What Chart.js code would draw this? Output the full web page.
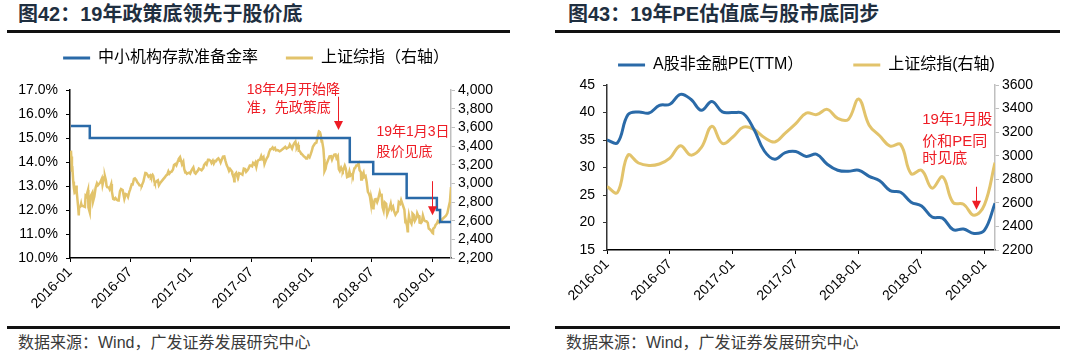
<!DOCTYPE html>
<html>
<head>
<meta charset="utf-8">
<script src="https://cdn.jsdelivr.net/npm/chart.js@4.4.0/dist/chart.umd.min.js"></script>
<style>
  body { margin: 0; background: #fff; width: 1080px; height: 362px; position: relative; overflow: hidden;
         font-family: "Liberation Sans", "Noto Sans CJK SC", sans-serif; }
  .title { position: absolute; top: 2px; font-size: 20px; font-weight: bold; color: #1f2f40; line-height: 24px; white-space: nowrap; }
  .rule { position: absolute; height: 3px; background: #111; }
  .src { position: absolute; top: 333px; font-size: 16px; color: #3a3a3a; line-height: 20px; white-space: nowrap; }
  .box { position: absolute; top: 40px; width: 540px; height: 280px; }
</style>
</head>
<body>
<div class="title" style="left:18px">图42：19年政策底领先于股价底</div>
<div class="rule" style="left:7px;width:503px;top:30px"></div>
<div class="box" style="left:0"><canvas id="left" width="540" height="280"></canvas></div>
<div class="rule" style="left:7px;width:503px;top:326px"></div>
<div class="src" style="left:18px">数据来源：Wind，广发证券发展研究中心</div>

<div class="title" style="left:568px">图43：19年PE估值底与股市底同步</div>
<div class="rule" style="left:555px;width:505px;top:30px"></div>
<div class="box" style="left:540px"><canvas id="right" width="540" height="280"></canvas></div>
<div class="rule" style="left:555px;width:505px;top:326px"></div>
<div class="src" style="left:566px">数据来源：Wind，广发证券发展研究中心</div>

<script>
// ---- data: chart 42 ----
const xTickLabels = ['2016-01', '2016-07', '2017-01', '2017-07', '2018-01', '2018-07', '2019-01'];

// small/medium bank RRR, % (date it took effect)
const rrrDates = ['2016-01-04', '2016-02-29', '2018-04-25', '2018-07-05', '2018-10-15', '2019-01-15', '2019-01-25', '2019-02-25'];
const rrrValues = [15.5, 15.0, 14.0, 13.5, 12.5, 12.0, 11.5, 11.5];

// SSE composite close
const sseDaily = [
  ['2016-01-04', 3350], ['2016-01-05', 3287], ['2016-01-07', 3125], ['2016-01-08', 3186], ['2016-01-11', 3017],
  ['2016-01-13', 2949], ['2016-01-15', 2901], ['2016-01-18', 2914], ['2016-01-20', 2976], ['2016-01-21', 2880],
  ['2016-01-22', 2916], ['2016-01-26', 2750], ['2016-01-28', 2656], ['2016-01-29', 2738], ['2016-02-02', 2750],
  ['2016-02-04', 2782], ['2016-02-05', 2763], ['2016-02-15', 2747], ['2016-02-17', 2867], ['2016-02-19', 2860],
  ['2016-02-24', 2929], ['2016-02-25', 2742], ['2016-02-29', 2688], ['2016-03-02', 2850], ['2016-03-04', 2874],
  ['2016-03-08', 2901], ['2016-03-10', 2805], ['2016-03-14', 2859], ['2016-03-18', 2955], ['2016-03-22', 3000],
  ['2016-03-25', 2979], ['2016-03-30', 3000], ['2016-04-01', 3009], ['2016-04-06', 3051], ['2016-04-08', 2985],
  ['2016-04-13', 3066], ['2016-04-15', 3078], ['2016-04-18', 3034], ['2016-04-20', 2973], ['2016-04-22', 2959],
  ['2016-04-27', 2954], ['2016-04-29', 2938], ['2016-05-04', 2992], ['2016-05-06', 2913], ['2016-05-10', 2833],
  ['2016-05-13', 2828], ['2016-05-17', 2843], ['2016-05-20', 2826], ['2016-05-25', 2816], ['2016-05-27', 2822],
  ['2016-05-31', 2917], ['2016-06-03', 2938], ['2016-06-08', 2927], ['2016-06-13', 2834], ['2016-06-17', 2885],
  ['2016-06-21', 2879], ['2016-06-24', 2854], ['2016-06-28', 2912], ['2016-06-30', 2930], ['2016-07-05', 2989],
  ['2016-07-08', 2988], ['2016-07-12', 3049], ['2016-07-15', 3054], ['2016-07-19', 3037], ['2016-07-22', 3013],
  ['2016-07-27', 2992], ['2016-07-29', 2979], ['2016-08-03', 2978], ['2016-08-05', 2976], ['2016-08-10', 3018],
  ['2016-08-12', 3050], ['2016-08-16', 3110], ['2016-08-19', 3108], ['2016-08-24', 3085], ['2016-08-26', 3070],
  ['2016-08-31', 3085], ['2016-09-02', 3067], ['2016-09-07', 3091], ['2016-09-09', 3078], ['2016-09-12', 3022],
  ['2016-09-14', 3002], ['2016-09-20', 3026], ['2016-09-23', 3033], ['2016-09-26', 2980], ['2016-09-30', 3005],
  ['2016-10-10', 3048], ['2016-10-14', 3064], ['2016-10-18', 3084], ['2016-10-21', 3091], ['2016-10-25', 3128],
  ['2016-10-28', 3104], ['2016-11-01', 3122], ['2016-11-04', 3125], ['2016-11-08', 3148], ['2016-11-11', 3196],
  ['2016-11-15', 3207], ['2016-11-18', 3192], ['2016-11-23', 3241], ['2016-11-25', 3262], ['2016-11-29', 3282],
  ['2016-12-02', 3243], ['2016-12-05', 3204], ['2016-12-09', 3232], ['2016-12-12', 3152], ['2016-12-15', 3117],
  ['2016-12-16', 3123], ['2016-12-20', 3102], ['2016-12-23', 3110], ['2016-12-27', 3114], ['2016-12-30', 3104],
  ['2017-01-03', 3136], ['2017-01-06', 3154], ['2017-01-09', 3171], ['2017-01-13', 3112], ['2017-01-16', 3103],
  ['2017-01-20', 3123], ['2017-01-23', 3136], ['2017-01-26', 3159], ['2017-02-03', 3140], ['2017-02-08', 3166],
  ['2017-02-10', 3197], ['2017-02-14', 3217], ['2017-02-17', 3202], ['2017-02-21', 3253], ['2017-02-24', 3253],
  ['2017-02-28', 3242], ['2017-03-03', 3218], ['2017-03-07', 3242], ['2017-03-10', 3212], ['2017-03-14', 3239],
  ['2017-03-17', 3237], ['2017-03-21', 3261], ['2017-03-24', 3269], ['2017-03-29', 3241], ['2017-03-31', 3223],
  ['2017-04-07', 3287], ['2017-04-11', 3289], ['2017-04-14', 3246], ['2017-04-18', 3196], ['2017-04-21', 3173],
  ['2017-04-25', 3134], ['2017-04-28', 3155], ['2017-05-04', 3128], ['2017-05-05', 3103], ['2017-05-10', 3053],
  ['2017-05-11', 3022], ['2017-05-12', 3091], ['2017-05-17', 3112], ['2017-05-19', 3090], ['2017-05-23', 3061],
  ['2017-05-26', 3110], ['2017-06-01', 3102], ['2017-06-05', 3092], ['2017-06-09', 3158], ['2017-06-13', 3153],
  ['2017-06-16', 3123], ['2017-06-20', 3140], ['2017-06-23', 3158], ['2017-06-27', 3191], ['2017-06-30', 3192],
  ['2017-07-04', 3183], ['2017-07-07', 3218], ['2017-07-11', 3203], ['2017-07-14', 3222], ['2017-07-17', 3176],
  ['2017-07-21', 3238], ['2017-07-24', 3250], ['2017-07-28', 3253], ['2017-08-01', 3292], ['2017-08-04', 3262],
  ['2017-08-08', 3281], ['2017-08-11', 3208], ['2017-08-14', 3237], ['2017-08-18', 3268], ['2017-08-22', 3290],
  ['2017-08-25', 3332], ['2017-08-29', 3365], ['2017-09-01', 3367], ['2017-09-05', 3385], ['2017-09-08', 3365],
  ['2017-09-12', 3379], ['2017-09-15', 3353], ['2017-09-19', 3356], ['2017-09-22', 3353], ['2017-09-26', 3343],
  ['2017-09-29', 3349], ['2017-10-10', 3382], ['2017-10-13', 3391], ['2017-10-17', 3372], ['2017-10-20', 3378],
  ['2017-10-24', 3388], ['2017-10-27', 3416], ['2017-10-31', 3393], ['2017-11-03', 3372], ['2017-11-07', 3413],
  ['2017-11-10', 3433], ['2017-11-13', 3447], ['2017-11-16', 3400], ['2017-11-17', 3382], ['2017-11-21', 3410],
  ['2017-11-23', 3352], ['2017-11-24', 3353], ['2017-11-28', 3333], ['2017-11-30', 3317], ['2017-12-01', 3318],
  ['2017-12-05', 3303], ['2017-12-08', 3289], ['2017-12-12', 3280], ['2017-12-15', 3266], ['2017-12-18', 3267],
  ['2017-12-22', 3297], ['2017-12-26', 3280], ['2017-12-29', 3307], ['2018-01-02', 3349], ['2018-01-05', 3391],
  ['2018-01-09', 3413], ['2018-01-12', 3429], ['2018-01-16', 3436], ['2018-01-19', 3488], ['2018-01-24', 3559],
  ['2018-01-26', 3558], ['2018-01-29', 3523], ['2018-02-01', 3447], ['2018-02-02', 3462], ['2018-02-06', 3370],
  ['2018-02-08', 3262], ['2018-02-09', 3129], ['2018-02-12', 3154], ['2018-02-14', 3199], ['2018-02-23', 3289],
  ['2018-02-27', 3292], ['2018-03-02', 3254], ['2018-03-06', 3290], ['2018-03-09', 3307], ['2018-03-13', 3310],
  ['2018-03-16', 3269], ['2018-03-20', 3291], ['2018-03-23', 3153], ['2018-03-26', 3133], ['2018-03-29', 3161],
  ['2018-03-30', 3169], ['2018-04-03', 3136], ['2018-04-04', 3131], ['2018-04-10', 3190], ['2018-04-13', 3159],
  ['2018-04-17', 3066], ['2018-04-20', 3071], ['2018-04-24', 3128], ['2018-04-27', 3082], ['2018-05-03', 3101],
  ['2018-05-04', 3091], ['2018-05-09', 3161], ['2018-05-11', 3163], ['2018-05-15', 3192], ['2018-05-18', 3193],
  ['2018-05-22', 3214], ['2018-05-25', 3141], ['2018-05-29', 3120], ['2018-05-30', 3041], ['2018-06-01', 3075],
  ['2018-06-06', 3115], ['2018-06-08', 3067], ['2018-06-12', 3079], ['2018-06-15', 3022], ['2018-06-19', 2908],
  ['2018-06-22', 2889], ['2018-06-25', 2859], ['2018-06-28', 2786], ['2018-06-29', 2847], ['2018-07-03', 2784],
  ['2018-07-05', 2733], ['2018-07-06', 2747], ['2018-07-10', 2827], ['2018-07-13', 2831], ['2018-07-17', 2798],
  ['2018-07-20', 2829], ['2018-07-25', 2903], ['2018-07-27', 2873], ['2018-07-31', 2876], ['2018-08-02', 2768],
  ['2018-08-03', 2740], ['2018-08-06', 2705], ['2018-08-09', 2794], ['2018-08-10', 2795], ['2018-08-14', 2781],
  ['2018-08-17', 2669], ['2018-08-20', 2698], ['2018-08-24', 2729], ['2018-08-28', 2781], ['2018-08-31', 2725],
  ['2018-09-04', 2750], ['2018-09-07', 2702], ['2018-09-11', 2664], ['2018-09-14', 2682], ['2018-09-18', 2699],
  ['2018-09-21', 2797], ['2018-09-25', 2781], ['2018-09-28', 2821], ['2018-10-08', 2716], ['2018-10-11', 2584],
  ['2018-10-12', 2606], ['2018-10-16', 2546], ['2018-10-18', 2486], ['2018-10-19', 2550], ['2018-10-22', 2655],
  ['2018-10-25', 2604], ['2018-10-26', 2598], ['2018-10-30', 2568], ['2018-11-01', 2606], ['2018-11-02', 2676],
  ['2018-11-06', 2659], ['2018-11-09', 2599], ['2018-11-14', 2632], ['2018-11-16', 2679], ['2018-11-20', 2645],
  ['2018-11-22', 2646], ['2018-11-23', 2580], ['2018-11-27', 2575], ['2018-11-30', 2588], ['2018-12-03', 2654],
  ['2018-12-07', 2605], ['2018-12-11', 2594], ['2018-12-14', 2594], ['2018-12-18', 2577], ['2018-12-21', 2516],
  ['2018-12-25', 2505], ['2018-12-28', 2494], ['2019-01-02', 2466], ['2019-01-03', 2464], ['2019-01-04', 2515],
  ['2019-01-08', 2526], ['2019-01-11', 2554], ['2019-01-15', 2570], ['2019-01-18', 2596], ['2019-01-22', 2580],
  ['2019-01-25', 2601], ['2019-01-29', 2594], ['2019-02-01', 2618], ['2019-02-11', 2653], ['2019-02-15', 2682],
  ['2019-02-19', 2754], ['2019-02-22', 2804], ['2019-02-25', 2961]
];

// ---- data: chart 43 (month-end) ----
const months = [
  '2016-01', '2016-02', '2016-03', '2016-04', '2016-05', '2016-06', '2016-07', '2016-08', '2016-09', '2016-10',
  '2016-11', '2016-12', '2017-01', '2017-02', '2017-03', '2017-04', '2017-05', '2017-06', '2017-07', '2017-08',
  '2017-09', '2017-10', '2017-11', '2017-12', '2018-01', '2018-02', '2018-03', '2018-04', '2018-05', '2018-06',
  '2018-07', '2018-08', '2018-09', '2018-10', '2018-11', '2018-12', '2019-01', '2019-02'
];
const peTTM = [
  35.0, 34.5, 39.6, 40.1, 39.9, 41.3, 41.5, 43.3, 42.4, 40.4,
  42.0, 40.1, 40.0, 39.8, 37.0, 33.0, 31.5, 32.7, 32.9, 32.0,
  32.4, 30.6, 29.5, 29.3, 29.5, 28.4, 27.6, 25.8, 25.5, 23.7,
  23.0, 21.0, 20.8, 18.7, 18.8, 18.0, 18.6, 23.5
];
const sseMonthly = [
  2738, 2688, 3004, 2938, 2917, 2930, 2979, 3085, 3005, 3070,
  3250, 3104, 3159, 3242, 3223, 3155, 3117, 3192, 3273, 3361,
  3349, 3393, 3317, 3307, 3481, 3259, 3169, 3082, 3095, 2847,
  2876, 2725, 2821, 2603, 2588, 2494, 2585, 2941
];

// ---- helpers ----
const BLUE = '#2a6aa8';
const GOLD = '#e2c36b';
const RED = '#ee1c25';
const FONT = '"Liberation Sans", "Noto Sans CJK SC", sans-serif';
Chart.defaults.font.family = FONT;
Chart.defaults.color = '#000';

function monthPos(d) {
  const [y, m, day] = d.split('-').map(Number);
  const dim = new Date(y, m, 0).getDate();
  return (y - 2016) * 12 + (m - 1) + (day - 1) / dim;
}

// push the plot down under the legend
const legendGap = {
  id: 'legendGap',
  beforeInit(chart, args, opts) {
    const fit = chart.legend.fit;
    chart.legend.fit = function () { fit.call(this); this.height += opts.extra; };
  }
};

// red notes and arrows, anchored on the scales
const notes = {
  id: 'notes',
  afterDatasetsDraw(chart, args, opts) {
    const { ctx, scales } = chart;
    const xs = scales.x, ys = scales.y;
    ctx.save();
    ctx.fillStyle = RED;
    ctx.strokeStyle = RED;
    ctx.font = opts.font;
    ctx.textBaseline = 'middle';
    ctx.textAlign = 'left';
    opts.texts.forEach(t => ctx.fillText(t.text, xs.getPixelForValue(t.x), ys.getPixelForValue(t.y)));
    opts.arrows.forEach(a => {
      const x = Math.round(xs.getPixelForValue(a.x)) + 0.5;
      const y0 = ys.getPixelForValue(a.from), y1 = ys.getPixelForValue(a.to);
      ctx.lineWidth = 1;
      ctx.beginPath(); ctx.moveTo(x, y0); ctx.lineTo(x, y1 - 8); ctx.stroke();
      ctx.beginPath(); ctx.moveTo(x - 4.5, y1 - 9); ctx.lineTo(x + 4.5, y1 - 9); ctx.lineTo(x, y1); ctx.closePath(); ctx.fill();
    });
    ctx.restore();
  }
};

function legendOpts(gaps) {
  return {
    display: true,
    position: 'top',
    labels: {
      font: { size: 16, family: FONT },
      color: '#000',
      boxWidth: 27,
      boxHeight: 3,
      padding: 10,
      generateLabels(chart) {
        return Chart.defaults.plugins.legend.labels.generateLabels(chart).map((l, i) =>
          Object.assign(l, { fillStyle: l.strokeStyle, lineWidth: 0, text: l.text + gaps[i] }));
      }
    }
  };
}

function xAxis(max, height) {
  return {
    type: 'linear', min: 0, max: max,
    afterBuildTicks: s => { s.ticks = xTickLabels.map((_, i) => ({ value: i * 6 })); },
    afterFit: s => { s.height = height; },
    ticks: { callback: v => xTickLabels[v / 6], minRotation: 45, maxRotation: 45, autoSkip: false,
             font: { size: 14 }, color: '#000', padding: 2 },
    grid: { drawOnChartArea: false, tickLength: 4, color: '#000', lineWidth: 1 },
    border: { color: '#000', width: 1.5 }
  };
}

function yAxis(pos, min, max, step, fmt, width, color, pad) {
  return {
    type: 'linear', position: pos, min: min, max: max,
    afterFit: s => { s.width = width; },
    ticks: { stepSize: step, callback: fmt, autoSkip: false, font: { size: 14 }, color: '#000', padding: pad },
    grid: { drawOnChartArea: false, tickLength: 4, color: color, lineWidth: 1 },
    border: { color: color, width: 1.5 }
  };
}

// ---- chart 42 ----
new Chart(document.getElementById('left'), {
  type: 'line',
  data: {
    datasets: [{
      label: '中小机构存款准备金率',
      data: rrrDates.map((d, i) => ({ x: monthPos(d), y: rrrValues[i] })),
      yAxisID: 'y',
      borderColor: BLUE, backgroundColor: BLUE,
      borderWidth: 2.5, stepped: 'before', pointRadius: 0
    }, {
      label: '上证综指（右轴）',
      data: sseDaily.map(([d, v]) => ({ x: monthPos(d), y: v })),
      yAxisID: 'y1',
      borderColor: GOLD, backgroundColor: GOLD,
      borderWidth: 2.5, tension: 0, pointRadius: 0
    }]
  },
  options: {
    responsive: false,
    animation: false,
    layout: { padding: { top: 0, left: 0, right: 28, bottom: 0 } },
    scales: {
      x: xAxis(monthPos(sseDaily[sseDaily.length - 1][0]), 62),
      y: yAxis('left', 10, 17, 1, v => v.toFixed(1) + '%', 70, '#000', 8),
      y1: yAxis('right', 2200, 4000, 200, v => v.toLocaleString('en-US'), 61, '#bfbfbf', 3)
    },
    plugins: {
      legend: legendOpts(['    ', '']),
      tooltip: { enabled: false },
      legendGap: { extra: 14 },
      notes: {
        font: '14px ' + FONT,
        texts: [
          { text: '18年4月开始降', x: 17.55, y: 17.0 },
          { text: '准，先政策底', x: 17.55, y: 16.23 },
          { text: '19年1月3日', x: 30.45, y: 15.26 },
          { text: '股价见底', x: 30.45, y: 14.4 }
        ],
        arrows: [
          { x: 26.6, from: 16.72, to: 15.33 },
          { x: 36.0, from: 13.2, to: 11.78 }
        ]
      }
    }
  },
  plugins: [legendGap, notes]
});

// ---- chart 43 ----
new Chart(document.getElementById('right'), {
  type: 'line',
  data: {
    datasets: [{
      label: 'A股非金融PE(TTM）',
      data: peTTM.map((v, i) => ({ x: i, y: v })),
      yAxisID: 'y',
      borderColor: BLUE, backgroundColor: BLUE,
      borderWidth: 3, tension: 0.4, pointRadius: 0
    }, {
      label: '上证综指(右轴)',
      data: sseMonthly.map((v, i) => ({ x: i, y: v })),
      yAxisID: 'y1',
      borderColor: GOLD, backgroundColor: GOLD,
      borderWidth: 3, tension: 0.4, pointRadius: 0
    }]
  },
  options: {
    responsive: false,
    animation: false,
    layout: { padding: { top: 7, left: 0, right: 7, bottom: 0 } },
    scales: {
      x: xAxis(months.length - 1, 70),
      y: yAxis('left', 15, 45, 5, v => String(v), 67, '#333', 8),
      y1: yAxis('right', 2200, 3600, 200, v => String(v), 78, '#bfbfbf', 3)
    },
    plugins: {
      legend: legendOpts(['         ', '']),
      tooltip: { enabled: false },
      legendGap: { extra: 2 },
      notes: {
        font: '15px ' + FONT,
        texts: [
          { text: '19年1月股', x: 30.06, y: 38.6 },
          { text: '价和PE同', x: 30.06, y: 34.7 },
          { text: '时见底', x: 30.06, y: 31.5 }
        ],
        arrows: [
          { x: 35.2, from: 26.5, to: 22.3 }
        ]
      }
    }
  },
  plugins: [legendGap, notes]
});
</script>
</body>
</html>
